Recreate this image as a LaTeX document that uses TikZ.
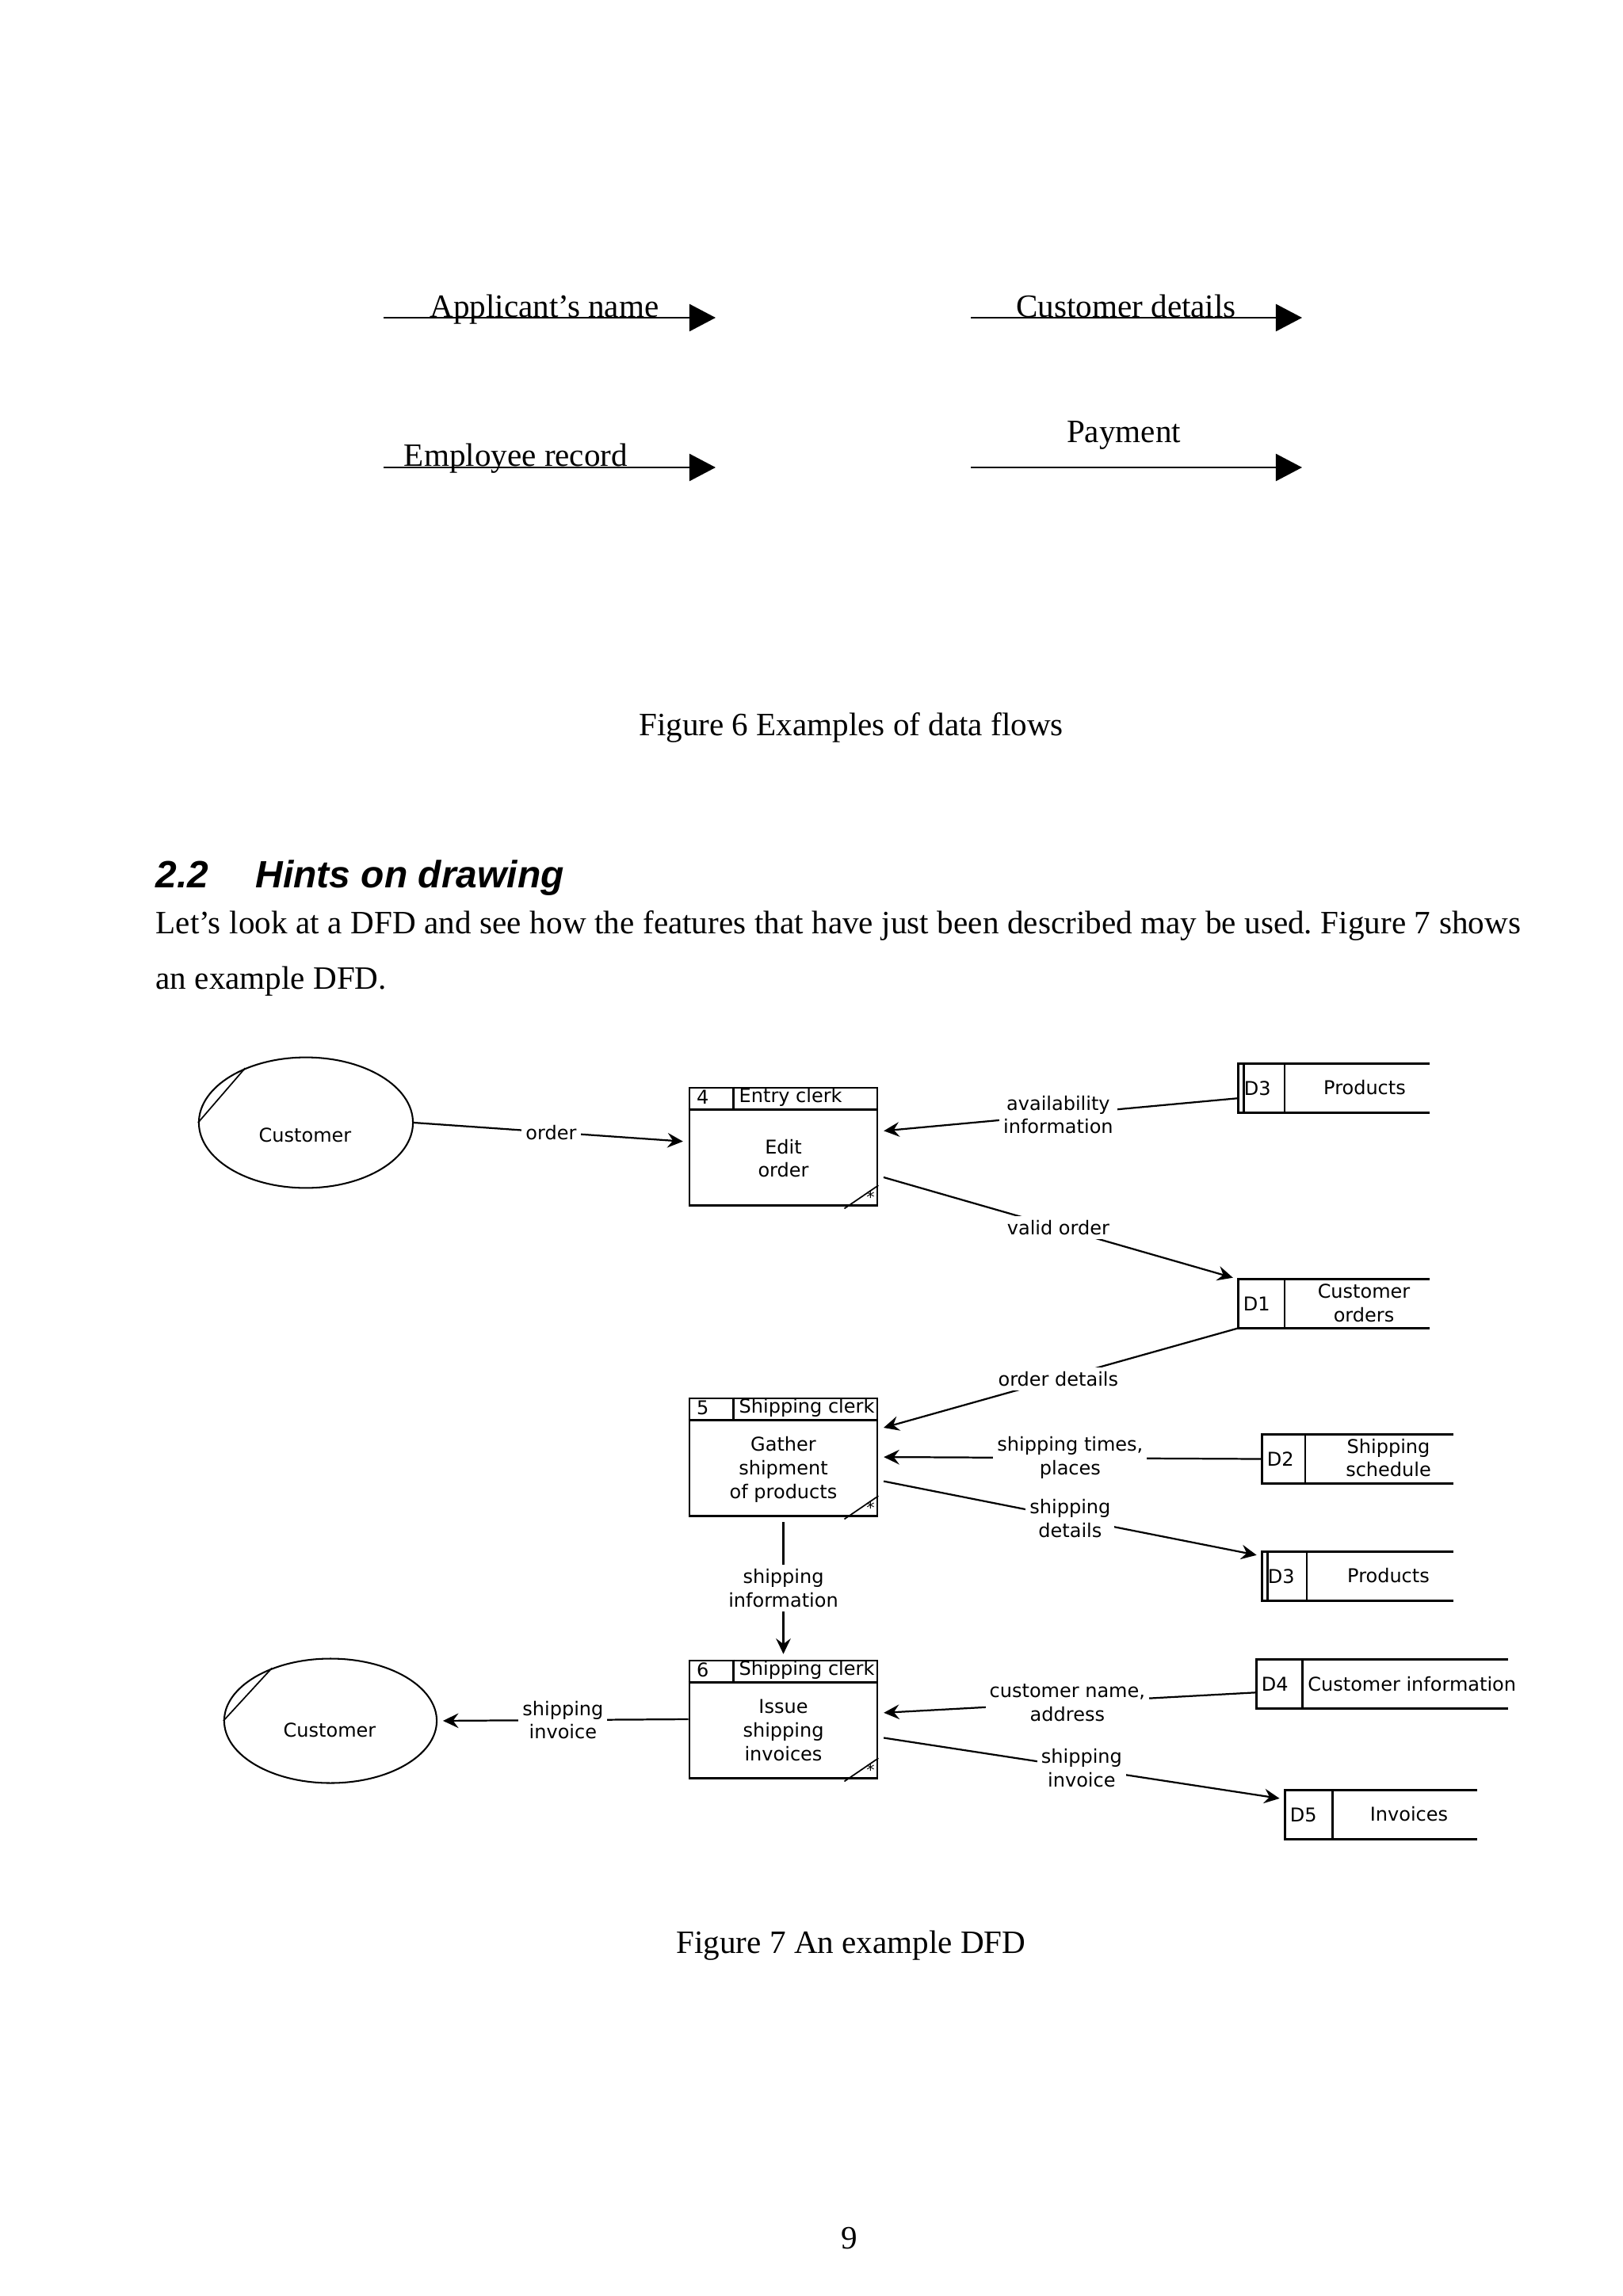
\documentclass[tikz,border=0pt]{standalone}
\usepackage{fontspec}
\setmainfont{Liberation Serif}
\newfontfamily\dfdfont{DejaVu Sans}
\newfontfamily\headfont{Liberation Sans}
\usetikzlibrary{arrows.meta,calc,shapes.geometric}
\frenchspacing
\tikzset{
	bigflow/.style={line width=0.8pt,-{Triangle[length=3.4mm,width=3.5mm]}},
	pagetext/.style={anchor=base,inner sep=0pt,font=\fontsize{12}{14.4}\selectfont},
	dfd/.style={inner sep=0pt,font=\dfdfont\fontsize{7}{8.7}\selectfont},
	flow/.style={line width=0.65pt,-{Stealth[length=2mm,width=1.9mm,inset=0.7mm]},shorten >=2pt},
	boxgap/.style={shorten <=2pt},
	flowlbl/.style={dfd,fill=white,align=center,inner sep=1.5pt},
	procbox/.style={draw,line width=0.8pt,minimum width=2.43cm,minimum height=1.52cm,inner sep=0pt},
	storebox/.style={minimum width=2.46cm,minimum height=0.62cm,inner sep=0pt},
	storeline/.style={line width=0.8pt},
	entity/.style={draw,ellipse,line width=0.6pt,inner sep=0pt}
}

\begin{document}
\begin{tikzpicture}[x=1.0254cm,y=-1.0254cm]
    \useasboundingbox (0,0) rectangle (20.48,28.98);
    % Figure 6: data flows
    \coordinate (a1s) at (4.84,4.01);
    \coordinate (a1e) at (9.03,4.01);
    \coordinate (a2s) at (12.25,4.01);
    \coordinate (a2e) at (16.43,4.01);
    \coordinate (a3s) at (4.84,5.90);
    \coordinate (a3e) at (9.03,5.90);
    \coordinate (a4s) at (12.25,5.90);
    \coordinate (a4e) at (16.43,5.90);
    \draw[bigflow] (a1s) -- (a1e);
    \draw[bigflow] (a2s) -- (a2e);
    \draw[bigflow] (a3s) -- (a3e);
    \draw[bigflow] (a4s) -- (a4e);
    \node[pagetext] (a1lbl) at (6.87,4.00) {Applicant’s name};
    \node[pagetext] (a2lbl) at (14.21,4.00) {Customer details};
    \node[pagetext] (a3lbl) at (6.51,5.88) {Employee record};
    \node[pagetext] (a4lbl) at (14.18,5.58) {Payment};
    \node[pagetext] (fig6) at (10.74,9.28) {Figure 6 Examples of data flows};

    % section heading and text
    \node[anchor=base west,inner sep=0pt,font=\headfont\bfseries\itshape\fontsize{14}{17}\selectfont] (secnum) at (1.96,11.20) {2.2};
    \node[anchor=base west,inner sep=0pt,font=\headfont\bfseries\itshape\fontsize{14}{17}\selectfont] (sectitle) at (3.22,11.20) {Hints on drawing};
    \node[pagetext,anchor=base west] (body1) at (1.96,11.78) {\makebox[17.66cm][s]{Let’s look at a DFD and see how the features that have just been described may be used. Figure 7 shows}};
    \node[pagetext,anchor=base west] (body2) at (1.96,12.48) {an example DFD.};

    % Figure 7: external entities
    \node[entity,minimum width=2.77cm,minimum height=1.69cm] (c1) at (3.86,14.17) {};
    \draw[line width=0.5pt] (c1.138) -- (c1.180);
    \node[dfd] (c1txt) at (3.85,14.33) {Customer};
    \node[entity,minimum width=2.75cm,minimum height=1.61cm] (c2) at (4.17,21.72) {};
    \draw[line width=0.5pt] (c2.138) -- (c2.180);
    \node[dfd] (c2txt) at (4.16,21.84) {Customer};

    % processes
    \node[procbox] (p4) at (9.885,14.47) {};
    \draw[storeline] ([yshift=-0.3cm]p4.north west) -- ([yshift=-0.3cm]p4.north east);
    \draw[storeline] ([xshift=0.585cm]p4.north west) -- ([xshift=0.585cm,yshift=-0.3cm]p4.north west);
    \node[dfd,anchor=west] (p4num) at ([xshift=0.1cm,yshift=-0.14cm]p4.north west) {4};
    \node[dfd,anchor=west] (p4who) at ([xshift=0.65cm,yshift=-0.14cm]p4.north west) {Entry clerk};
    \node[dfd,align=center] (p4txt) at (9.885,14.62) {Edit\\order};
    \draw[line width=0.5pt] ([xshift=-0.44cm,yshift=-0.03cm]p4.south east) -- ([yshift=0.27cm]p4.south east);
    \node[inner sep=0pt,font=\dfdfont\fontsize{6}{6}\selectfont] (p4star) at ([xshift=-0.1cm,yshift=0.12cm]p4.south east) {*};

    \node[procbox] (p5) at (9.885,18.39) {};
    \draw[storeline] ([yshift=-0.3cm]p5.north west) -- ([yshift=-0.3cm]p5.north east);
    \draw[storeline] ([xshift=0.585cm]p5.north west) -- ([xshift=0.585cm,yshift=-0.3cm]p5.north west);
    \node[dfd,anchor=west] (p5num) at ([xshift=0.1cm,yshift=-0.14cm]p5.north west) {5};
    \node[dfd,anchor=west] (p5who) at ([xshift=0.65cm,yshift=-0.14cm]p5.north west) {Shipping clerk};
    \node[dfd,align=center] (p5txt) at (9.885,18.55) {Gather\\shipment\\of products};
    \draw[line width=0.5pt] ([xshift=-0.44cm,yshift=-0.03cm]p5.south east) -- ([yshift=0.27cm]p5.south east);
    \node[inner sep=0pt,font=\dfdfont\fontsize{6}{6}\selectfont] (p5star) at ([xshift=-0.1cm,yshift=0.12cm]p5.south east) {*};

    \node[procbox] (p6) at (9.885,21.70) {};
    \draw[storeline] ([yshift=-0.3cm]p6.north west) -- ([yshift=-0.3cm]p6.north east);
    \draw[storeline] ([xshift=0.585cm]p6.north west) -- ([xshift=0.585cm,yshift=-0.3cm]p6.north west);
    \node[dfd,anchor=west] (p6num) at ([xshift=0.1cm,yshift=-0.14cm]p6.north west) {6};
    \node[dfd,anchor=west] (p6who) at ([xshift=0.65cm,yshift=-0.14cm]p6.north west) {Shipping clerk};
    \node[dfd,align=center] (p6txt) at (9.885,21.84) {Issue\\shipping\\invoices};
    \draw[line width=0.5pt] ([xshift=-0.44cm,yshift=-0.03cm]p6.south east) -- ([yshift=0.27cm]p6.south east);
    \node[inner sep=0pt,font=\dfdfont\fontsize{6}{6}\selectfont] (p6star) at ([xshift=-0.1cm,yshift=0.12cm]p6.south east) {*};

    % data stores
    \node[storebox] (d3a) at (16.83,13.735) {};
    \draw[storeline] (d3a.north east) -- (d3a.north west) -- (d3a.south west) -- (d3a.south east);
    \draw[storeline] ([xshift=0.07cm]d3a.north west) -- ([xshift=0.07cm]d3a.south west);
    \draw[storeline] ([xshift=0.6cm]d3a.north west) -- ([xshift=0.6cm]d3a.south west);
    \node[dfd,anchor=west] (d3aid) at ([xshift=0.07cm]d3a.west) {D3};
    \node[dfd] (d3aname) at (17.22,13.73) {Products};

    \node[storebox] (d1) at (16.83,16.455) {};
    \draw[storeline] (d1.north east) -- (d1.north west) -- (d1.south west) -- (d1.south east);
    \draw[storeline] ([xshift=0.6cm]d1.north west) -- ([xshift=0.6cm]d1.south west);
    \node[dfd,anchor=west] (d1id) at ([xshift=0.06cm]d1.west) {D1};
    \node[dfd,align=center] (d1name) at (17.21,16.45) {Customer\\orders};

    \node[storebox] (d2) at (17.13,18.415) {};
    \draw[storeline] (d2.north east) -- (d2.north west) -- (d2.south west) -- (d2.south east);
    \draw[storeline] ([xshift=0.56cm]d2.north west) -- ([xshift=0.56cm]d2.south west);
    \node[dfd,anchor=west] (d2id) at ([xshift=0.06cm]d2.west) {D2};
    \node[dfd,align=center] (d2name) at (17.52,18.40) {Shipping\\schedule};

    \node[storebox] (d3b) at (17.13,19.895) {};
    \draw[storeline] (d3b.north east) -- (d3b.north west) -- (d3b.south west) -- (d3b.south east);
    \draw[storeline] ([xshift=0.07cm]d3b.north west) -- ([xshift=0.07cm]d3b.south west);
    \draw[storeline] ([xshift=0.58cm]d3b.north west) -- ([xshift=0.58cm]d3b.south west);
    \node[dfd,anchor=west] (d3bid) at ([xshift=0.07cm]d3b.west) {D3};
    \node[dfd] (d3bname) at (17.52,19.89) {Products};

    \node[storebox,minimum width=3.24cm] (d4) at (17.44,21.255) {};
    \draw[storeline] (d4.north east) -- (d4.north west) -- (d4.south west) -- (d4.south east);
    \draw[storeline] ([xshift=0.6cm]d4.north west) -- ([xshift=0.6cm]d4.south west);
    \node[dfd,anchor=west] (d4id) at ([xshift=0.06cm]d4.west) {D4};
    \node[dfd,anchor=west] (d4name) at ([xshift=0.66cm]d4.west) {Customer information};

    \node[storebox,minimum width=2.47cm] (d5) at (17.425,22.905) {};
    \draw[storeline] (d5.north east) -- (d5.north west) -- (d5.south west) -- (d5.south east);
    \draw[storeline] ([xshift=0.62cm]d5.north west) -- ([xshift=0.62cm]d5.south west);
    \node[dfd,anchor=west] (d5id) at ([xshift=0.06cm]d5.west) {D5};
    \node[dfd] (d5name) at (17.78,22.90) {Invoices};

    % data flows
    \draw[flow] (c1.east) -- node[flowlbl] {order} ([yshift=0.06cm]p4.west);
    \draw[flow] ([yshift=-0.13cm]d3a.west) -- node[flowlbl] {availability\\information} ([yshift=0.195cm]p4.east);
    \draw[flow,boxgap] ([yshift=-0.38cm]p4.east) -- node[flowlbl] {valid order} (d1.north west);
    \draw[flow] (d1.south west) -- node[flowlbl] {order details} ([yshift=0.36cm]p5.east);
    \draw[flow] (d2.west) -- node[flowlbl] {shipping times,\\places} (p5.east);
    \draw[flow,boxgap] ([yshift=-0.3cm]p5.east) -- node[flowlbl] {shipping\\details} ([yshift=0.26cm]d3b.west);
    \draw[flow,boxgap] (p5.south) -- node[flowlbl] {shipping\\information} (p6.north);
    \draw[flow] (p6.west) -- node[flowlbl] {shipping\\invoice} (c2.east);
    \draw[flow] ([yshift=-0.11cm]d4.west) -- node[flowlbl] {customer name,\\address} ([yshift=0.08cm]p6.east);
    \draw[flow,boxgap] ([yshift=-0.23cm]p6.east) -- node[flowlbl] {shipping\\invoice} ([yshift=0.2cm]d5.west);

    \node[pagetext] (fig7) at (10.74,24.65) {Figure 7 An example DFD};
    \node[pagetext] (pagenum) at (10.72,28.38) {9};
\end{tikzpicture}
\end{document}
